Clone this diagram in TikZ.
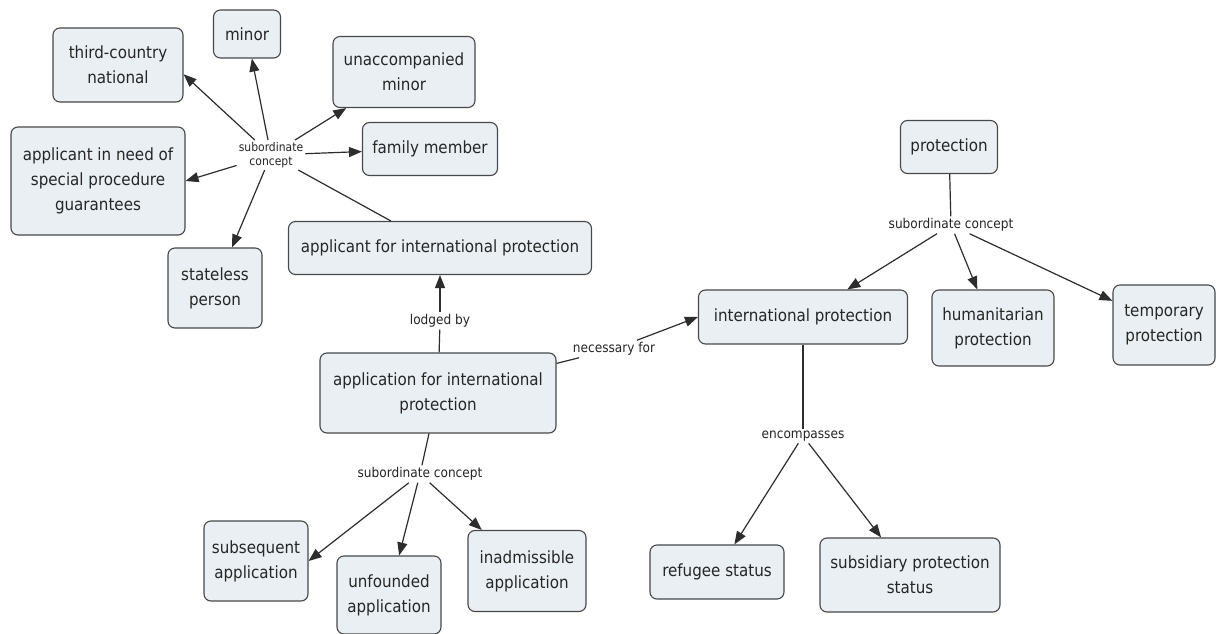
\documentclass[tikz,border=0pt]{standalone}
\usepackage{fontspec}
\setmainfont{DejaVu Sans Condensed}
\usetikzlibrary{arrows.meta}
\definecolor{conceptfill}{RGB}{233,239,243}
\definecolor{conceptline}{RGB}{70,72,74}
\definecolor{linkline}{RGB}{45,45,45}
\tikzset{
  concept/.style={draw=conceptline, fill=conceptfill, line width=1.1pt,
    rounded corners=7pt, align=center, inner sep=0pt,
    font=\fontsize{16.8}{25}\selectfont, text=black!85},
  linklabel/.style={inner sep=2pt, align=center,
    font=\fontsize{13.5}{16}\selectfont, text=black!85},
  link/.style={draw=linkline, line width=1.2pt},
  linkarrow/.style={link, -{Triangle[length=13pt,width=10pt]}},
}
\begin{document}
\begin{tikzpicture}[x=1pt,y=-1pt]
\useasboundingbox (0,0) rectangle (1216,634);
\fill[white] (0,0) rectangle (1216,634);

% concepts
\node[concept, minimum width=130pt, minimum height=74pt] (tcn) at (118,65) {third-country\\national};
\node[concept, minimum width=67pt, minimum height=48pt] (minor) at (247,34) {minor};
\node[concept, minimum width=142pt, minimum height=71pt] (uam) at (404,72) {unaccompanied\\minor};
\node[concept, minimum width=135pt, minimum height=53pt] (fam) at (430,149) {family member};
\node[concept, minimum width=174pt, minimum height=108pt] (anspg) at (98,181) {applicant in need of\\special procedure\\guarantees};
\node[concept, minimum width=94pt, minimum height=80pt] (stl) at (215,288) {stateless\\person};
\node[concept, minimum width=303pt, minimum height=53pt] (aip) at (440,248) {applicant for international protection};
\node[concept, minimum width=236pt, minimum height=80pt] (appl) at (438,393) {application for international\\protection};
\node[concept, minimum width=209pt, minimum height=54pt] (ip) at (803,317) {international protection};
\node[concept, minimum width=97pt, minimum height=53pt] (prot) at (949,147) {protection};
\node[concept, minimum width=122pt, minimum height=76pt] (hum) at (993,328) {humanitarian\\protection};
\node[concept, minimum width=102pt, minimum height=80pt] (tmp) at (1164,325) {temporary\\protection};
\node[concept, minimum width=134pt, minimum height=54pt] (ref) at (717,572) {refugee status};
\node[concept, minimum width=180pt, minimum height=74pt] (sub) at (910,575) {subsidiary protection\\status};
\node[concept, minimum width=104pt, minimum height=80pt] (subq) at (256,561) {subsequent\\application};
\node[concept, minimum width=104pt, minimum height=78pt] (unf) at (389,595) {unfounded\\application};
\node[concept, minimum width=118pt, minimum height=81pt] (inad) at (527,571) {inadmissible\\application};

% link labels
\node[linklabel, font=\fontsize{12}{14}\selectfont] (sc1) at (271,155) {subordinate\\concept};
\node[linklabel] (lodged) at (440,321) {lodged by};
\node[linklabel] (nec) at (614,349) {necessary for};
\node[linklabel] (sc2) at (951,225) {subordinate concept};
\node[linklabel] (enc) at (803,436) {encompasses};
\node[linklabel] (sc3) at (420,474) {subordinate concept};

% applicant sub-concepts
\draw[link] (aip) -- (sc1);
\draw[linkarrow] (sc1) -- (tcn.-8);
\draw[linkarrow] (sc1) -- (minor);
\draw[linkarrow] (sc1) -- (uam);
\draw[linkarrow] (sc1) -- (fam);
\draw[linkarrow] (sc1) -- (anspg.east);
\draw[linkarrow] (sc1) -- (stl);

% application links
\draw[link] (appl) -- (lodged);
\draw[linkarrow] (lodged) -- (aip);
\draw[link] (appl) -- (nec);
\draw[linkarrow] (nec) -- (ip.west);

% protection hierarchy
\draw[link] (prot) -- (sc2);
\draw[linkarrow] (sc2) -- (ip);
\draw[linkarrow] (sc2) -- (hum);
\draw[linkarrow] (sc2) -- (tmp);

% international protection
\draw[link] (ip) -- (enc);
\draw[linkarrow] (enc) -- (ref);
\draw[linkarrow] (enc) -- (sub);

% application sub-concepts
\draw[link] (appl) -- (sc3);
\draw[linkarrow] (sc3) -- (subq.east);
\draw[linkarrow] (sc3) -- (unf);
\draw[linkarrow] (sc3) -- (inad);
\end{tikzpicture}
\end{document}
